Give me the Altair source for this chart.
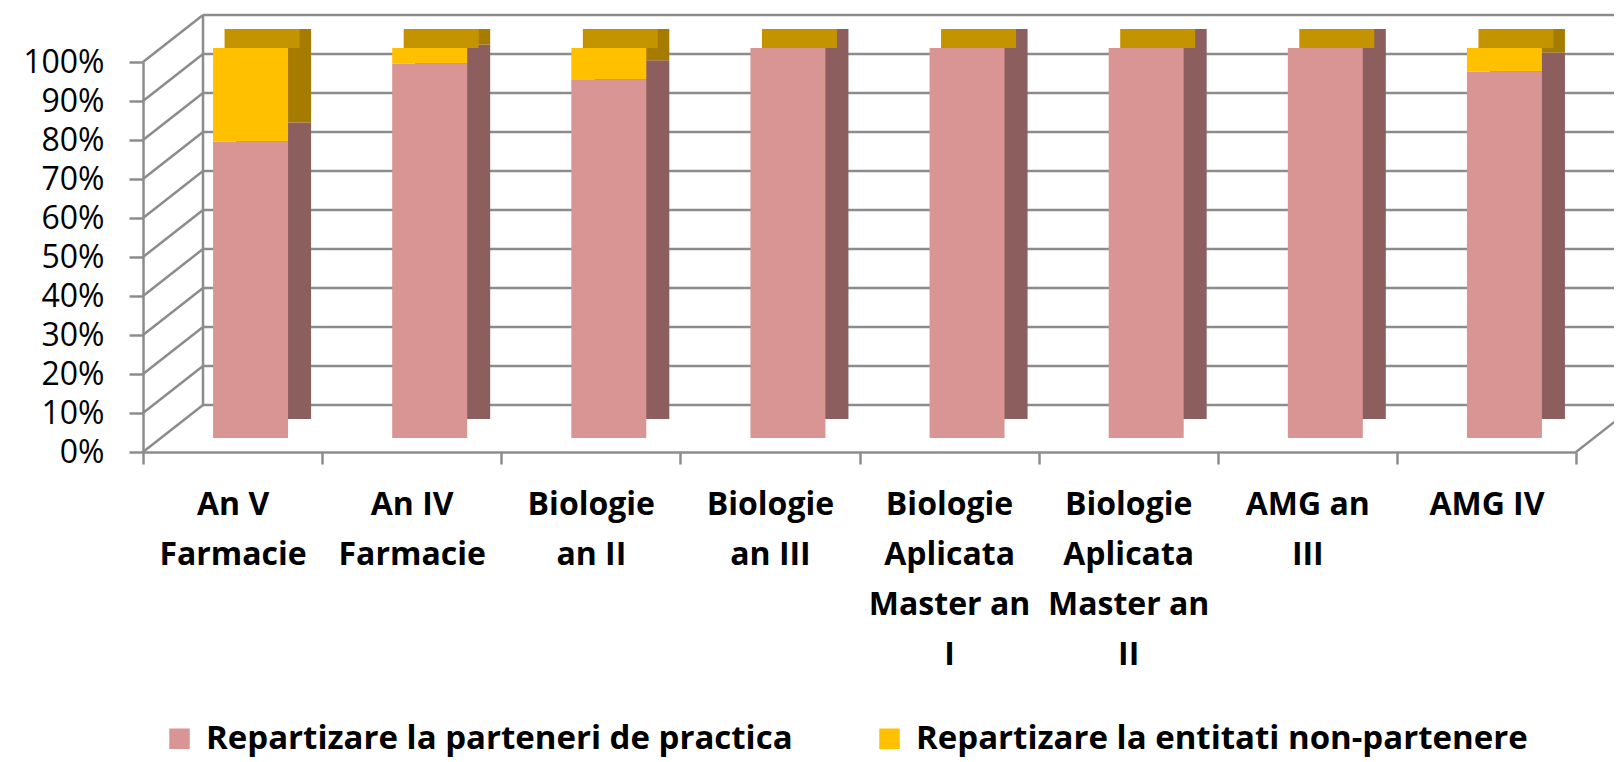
import altair as alt
import pandas as pd

categories = [
    "An V Farmacie", "An IV Farmacie", "Biologie an II", "Biologie an III",
    "Biologie Aplicata Master an I", "Biologie Aplicata Master an II",
    "AMG an III", "AMG IV",
]
label_lines = [
    ["An V", "Farmacie"], ["An IV", "Farmacie"], ["Biologie", "an II"],
    ["Biologie", "an III"], ["Biologie", "Aplicata", "Master an", "I"],
    ["Biologie", "Aplicata", "Master an", "II"], ["AMG an", "III"], ["AMG IV"],
]
series_names = ["Repartizare la parteneri de practica", "Repartizare la entitati non-partenere"]
partner = [76, 96, 92, 100, 100, 100, 100, 94]
non_partner = [24, 4, 8, 0, 0, 0, 0, 6]
y_ticks = [0, 10, 20, 30, 40, 50, 60, 70, 80, 90, 100]

front_colors = ["#D99594", "#FFC000"]
side_colors = ["#8C5E5E", "#A67C00"]
top_color = "#C49300"
GRID = "#8C8C8C"
FONT = "Open Sans"

rows = []
for i, c in enumerate(categories):
    rows.append({"cat": c, "series": series_names[0], "rank": 0, "v": partner[i] / 100})
    rows.append({"cat": c, "series": series_names[1], "rank": 1, "v": non_partner[i] / 100})
df = pd.DataFrame(rows)
tot_df = pd.DataFrame({"cat": categories,
                       "total": [(p + n) / 100 for p, n in zip(partner, non_partner)]})
grid_df = pd.DataFrame({"v": [t / 100 for t in y_ticks]})
edge_df = pd.DataFrame({"lo": [y_ticks[0] / 100], "hi": [y_ticks[-1] / 100]})

W, H = 1433, 390
DX, DY = 60, -47          # depth of the back wall
BX, BY = 18, -14          # bar front face offset
SX, SY = 23, -19          # bar depth

label_expr = "(" + str(dict(zip(categories, label_lines))).replace("'", '"') + ")[datum.label]"

yscale = alt.Scale(domain=[0, 1], nice=False, zero=True)
xscale = alt.Scale(domain=categories, paddingInner=0, paddingOuter=0)

X_AXIS = alt.Axis(labelExpr=label_expr, labelAngle=0, labelFont=FONT, labelFontWeight="bold",
                  labelFontSize=32, labelColor="black", labelLineHeight=50, labelPadding=25,
                  labelLimit=400, tickBand="extent", tickSize=12, tickColor=GRID, tickWidth=2.5,
                  domainColor=GRID, domainWidth=2.5, labelBaseline="top", title=None)
Y_AXIS = alt.Axis(values=[t / 100 for t in y_ticks], format=".0%", labelFont=FONT,
                  labelFontSize=32, labelColor="black", labelPadding=25, tickSize=14,
                  tickColor=GRID, tickWidth=2.5, domainColor=GRID, domainWidth=2.5, grid=False,
                  title=None)


def X():
    return alt.X("cat:N", scale=xscale, sort=categories, axis=X_AXIS, title=None)


def Y(field, **kw):
    return alt.Y(field, scale=yscale, axis=Y_AXIS, title=None, **kw)


wall_grid = alt.Chart(grid_df).mark_rule(color=GRID, strokeWidth=2.5, yOffset=DY).encode(
    y=Y("v:Q"), x=alt.value(DX), x2=alt.value(W + 60))
wall_edge = alt.Chart(edge_df).mark_rule(color=GRID, strokeWidth=2.5, yOffset=DY, y2Offset=DY).encode(
    x=alt.value(DX), y=Y("lo:Q"), y2="hi:Q")
diag = alt.Chart(grid_df).mark_rule(color=GRID, strokeWidth=2.5, y2Offset=DY).encode(
    x=alt.value(0), x2=alt.value(DX), y=Y("v:Q"), y2="v:Q")
right_diag = alt.Chart(edge_df).mark_rule(color=GRID, strokeWidth=2.5, y2Offset=DY).encode(
    x=alt.value(W), x2=alt.value(W + DX), y=Y("lo:Q"), y2="lo:Q")

side = alt.Chart(df).mark_bar(width=75, xOffset=BX + SX, x2Offset=BX + SX,
                              yOffset=BY + SY, y2Offset=BY + SY).encode(
    x=X(),
    y=Y("v:Q", stack="zero"),
    color=alt.Color("series:N", scale=alt.Scale(domain=series_names, range=side_colors), legend=None),
    order=alt.Order("rank:Q"),
)
top = alt.Chart(tot_df).mark_bar(width=75, color=top_color, xOffset=BX + SX / 2, x2Offset=BX + SX / 2,
                                 yOffset=BY + SY, y2Offset=BY).encode(
    x=X(),
    y=Y("total:Q"),
    y2="total:Q",
)
front = alt.Chart(df).mark_bar(width=75, xOffset=BX, x2Offset=BX, yOffset=BY, y2Offset=BY).encode(
    x=X(),
    y=Y("v:Q", stack="zero"),
    color=alt.Color("series:N", scale=alt.Scale(domain=series_names, range=front_colors),
                    legend=alt.Legend(title=None, orient="none", legendX=20, legendY=660,
                                      direction="horizontal", columns=2, symbolType="square",
                                      symbolSize=420, symbolStrokeWidth=0, labelFont=FONT,
                                      labelFontWeight="bold", labelFontSize=33, labelColor="black",
                                      labelLimit=800, columnPadding=80, labelOffset=10)),
    order=alt.Order("rank:Q"),
)

chart = alt.layer(wall_grid, wall_edge, diag, right_diag, side, top, front).resolve_scale(
    color="independent"
).properties(
    width=W, height=H,
    background="white",
    autosize=alt.AutoSizeParams(type="none"),
    padding={"left": 135, "top": 54, "right": 38, "bottom": 306},
).configure_view(stroke="transparent", strokeWidth=0)

chart.save("out.html", embed_options={"renderer": "svg", "actions": False})
